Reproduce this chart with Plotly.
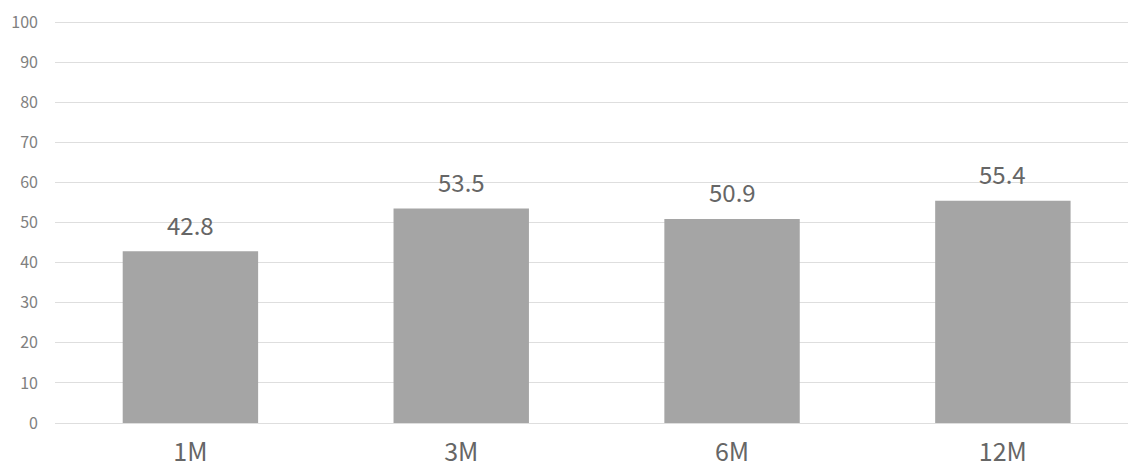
import plotly.graph_objects as go

categories = ["1M", "3M", "6M", "12M"]
values = [42.8, 53.5, 50.9, 55.4]
y_ticks = [0, 10, 20, 30, 40, 50, 60, 70, 80, 90, 100]

FONT = "Noto Sans CJK JP, Noto Sans, sans-serif"

fig = go.Figure()
fig.add_trace(go.Bar(
    x=categories, y=values,
    marker=dict(color="#a5a5a5", line=dict(width=0)),
    hoverinfo="skip",
))

for c, v in zip(categories, values):
    fig.add_annotation(
        x=c, y=v, text=f"{v:.1f}", showarrow=False,
        yanchor="middle", yshift=27,
        font=dict(family=FONT, size=24, color="#666666"),
    )

fig.update_layout(
    width=1128, height=468,
    margin=dict(l=55, r=0, t=20, b=43),
    paper_bgcolor="white", plot_bgcolor="white",
    bargap=0.5, showlegend=False,
    font=dict(family=FONT),
)
fig.update_xaxes(
    type="category", range=[-0.5, 3.462],
    showgrid=False, zeroline=False, showline=False,
    ticks="", ticklabelstandoff=12,
    tickfont=dict(family=FONT, size=25, color="#666666"),
)
fig.update_yaxes(
    range=[0, 100.5], tickvals=y_ticks,
    showgrid=True, gridcolor="#dedede", gridwidth=1,
    zeroline=True, zerolinecolor="#dedede", zerolinewidth=1,
    showline=False, ticks="", ticklabelstandoff=16,
    tickfont=dict(family=FONT, size=16, color="#808080"),
)

fig.write_html("out.html")
